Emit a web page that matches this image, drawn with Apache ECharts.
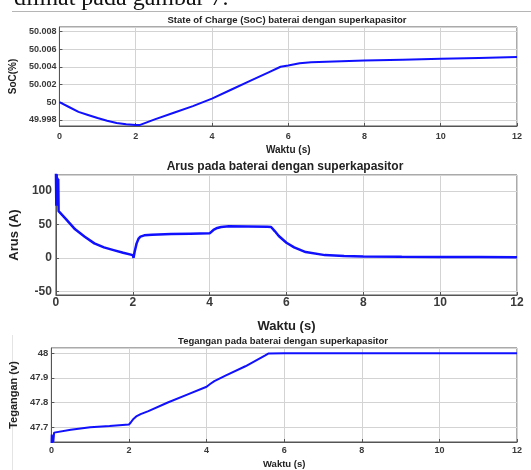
<!DOCTYPE html>
<html>
<head>
<meta charset="utf-8">
<script src="https://cdn.jsdelivr.net/npm/echarts@6/dist/echarts.min.js"></script>
<style>
  html, body { margin: 0; padding: 0; background: #fff; }
  #main { width: 531px; height: 470px; }
</style>
</head>
<body>
<div id="main"></div>
<script>
// data
const socTime = [0, 0.25, 0.5, 0.75, 1, 1.25, 1.5, 1.75, 2, 2.1, 2.5, 3, 3.5, 4, 4.5, 5, 5.5, 5.8, 6, 6.3, 6.6, 7, 8, 9, 10, 11, 12];
const socValue = [50.0000, 49.99945, 49.9989, 49.99855, 49.9982, 49.9979, 49.99765, 49.9975, 49.9974, 49.9974, 49.99805, 49.9988, 49.99955, 50.0004, 50.0014, 50.0024, 50.0034, 50.0040, 50.00415, 50.0044, 50.0045, 50.00458, 50.0047, 50.0048, 50.0049, 50.0050, 50.0051];

const arusTime = [0, 0.01, 0.02, 0.03, 0.04, 0.05, 0.06, 0.07, 0.1, 0.25, 0.5, 0.75, 1, 1.25, 1.5, 1.75, 2, 2.02, 2.05, 2.1, 2.15, 2.2, 2.3, 2.5, 3, 3.5, 4, 4.05, 4.1, 4.2, 4.3, 4.5, 5, 5.5, 5.6, 5.7, 5.8, 6, 6.2, 6.5, 7, 7.5, 8, 9, 10, 11, 12];
const arusValue = [130, 78, 125, 80, 120, 85, 118, 70, 69, 59, 43, 32, 22, 16, 12, 8, 4.5, 0.5, 10, 22, 29, 32, 34, 35, 36, 36.5, 37, 39, 42, 45, 46.5, 47.5, 47.2, 46.8, 46.5, 40, 33, 23, 16, 9, 4.5, 3, 2.5, 2, 1.7, 1.5, 1.3];

const tegTime = [0, 0.01, 0.02, 0.03, 0.05, 0.07, 0.1, 0.5, 1, 1.5, 2, 2.05, 2.1, 2.2, 2.3, 2.5, 3, 3.5, 4, 4.1, 4.2, 4.5, 5, 5.5, 5.6, 6, 8, 10, 12];
const tegValue = [47.62, 47.67, 47.63, 47.66, 47.64, 47.678, 47.68, 47.69, 47.70, 47.705, 47.711, 47.72, 47.731, 47.745, 47.753, 47.765, 47.80, 47.832, 47.864, 47.876, 47.887, 47.91, 47.947, 47.99, 47.999, 48.0, 48.0, 48.0, 48.0];

const titles = [
    "State of Charge (SoC) baterai dengan superkapasitor",
    "Arus pada baterai dengan superkapasitor",
    "Tegangan pada baterai dengan superkapasitor"
];
const yNames = ["SoC(%)", "Arus (A)", "Tegangan (v)"];
const xName = "Waktu (s)";

const FONT = "'Liberation Sans', Arial, sans-serif";
const boxColor = "#555";
const gridColor = "#d3d3d3";
const labelColor = "#3a3a3a";

function pairs(t, v) {
    return t.map((x, i) => [x, v[i]]);
}

function xAxisFor(idx, fs, margin, nameFs, nameGap) {
    return {
        type: "value",
        gridIndex: idx,
        min: 0,
        max: 12,
        interval: 2,
        name: xName,
        nameLocation: "middle",
        nameGap: nameGap,
        nameTextStyle: { fontFamily: FONT, fontWeight: "bold", fontSize: nameFs, color: "#222" },
        axisLine: { show: true, onZero: false, lineStyle: { color: boxColor, width: 1 } },
        axisTick: { show: true, inside: true, length: 3, lineStyle: { color: boxColor } },
        axisLabel: { fontFamily: FONT, fontWeight: "bold", fontSize: fs, color: labelColor, margin: margin },
        splitLine: { show: true, lineStyle: { color: gridColor, width: 1 } },
    };
}

function yAxisFor(idx, min, max, step, digits, fs, margin, name, nameFs, nameGap) {
    return {
        type: "value",
        gridIndex: idx,
        min: min,
        max: max,
        minInterval: step,
        maxInterval: step,
        name: name,
        nameLocation: "middle",
        nameGap: nameGap,
        nameTextStyle: { fontFamily: FONT, fontWeight: "bold", fontSize: nameFs, color: "#222" },
        axisLine: { show: true, onZero: false, lineStyle: { color: boxColor, width: 1 } },
        axisTick: { show: true, inside: true, length: 3, lineStyle: { color: boxColor } },
        axisLabel: {
            fontFamily: FONT, fontWeight: "bold", fontSize: fs, color: labelColor, margin: margin,
            showMinLabel: false, showMaxLabel: false,
            formatter: function (v) { return String(+v.toFixed(digits)); },
        },
        splitLine: { show: true, lineStyle: { color: gridColor, width: 1 } },
    };
}

function titleText(text, x, y, fs) {
    return {
        type: "text",
        x: x,
        y: y,
        style: {
            text: text,
            fontFamily: FONT,
            fontWeight: "bold",
            fontSize: fs,
            fill: "#222",
            align: "center",
            verticalAlign: "middle",
        },
    };
}

const option = {
    animation: false,
    backgroundColor: "#fff",
    grid: [
        { left: 58, right: 14, top: 27, height: 99, show: true, borderColor: boxColor, borderWidth: 1 },
        { left: 54, right: 14, top: 175, height: 120, show: true, borderColor: boxColor, borderWidth: 1 },
        { left: 47, right: 14, top: 348, height: 96, show: true, borderColor: boxColor, borderWidth: 1 },
    ],
    xAxis: [
        xAxisFor(0, 9, 6, 10, 19),
        xAxisFor(1, 12, 2, 13, 25),
        xAxisFor(2, 9, 4, 9.5, 17),
    ],
    yAxis: [
        yAxisFor(0, 49.9973, 50.0085, 0.002, 3, 9, 3, yNames[0], 10, 39),
        yAxisFor(1, -55, 124, 50, 0, 12, 4, yNames[1], 13, 33),
        yAxisFor(2, 47.64, 48.021, 0.1, 1, 9.5, 3, yNames[2], 11, 26),
    ],
    graphic: [
        {
            type: "text",
            x: 14,
            y: -1,
            style: {
                text: "dilihat pada gambar 7.",
                fontFamily: "'Liberation Serif', 'Times New Roman', serif",
                fontSize: 24,
                fill: "#111",
                verticalAlign: "middle",
            },
        },
        { type: "line", shape: { x1: 12, y1: 11.5, x2: 531, y2: 11.5 }, style: { stroke: "#b5b5b5", lineWidth: 1 } },
        { type: "line", shape: { x1: 12.5, y1: 335, x2: 12.5, y2: 470 }, style: { stroke: "#e4e4e4", lineWidth: 1 } },
        titleText(titles[0], 287, 20, 9.5),
        titleText(titles[1], 285, 167, 12),
        titleText(titles[2], 283, 341, 9.5),
    ],
    series: [
        {
            type: "line", xAxisIndex: 0, yAxisIndex: 0, data: pairs(socTime, socValue),
            showSymbol: false, smooth: false, lineStyle: { color: "#1010ff", width: 2 },
        },
        {
            type: "line", xAxisIndex: 1, yAxisIndex: 1, data: pairs(arusTime, arusValue),
            showSymbol: false, smooth: false, lineStyle: { color: "#1010ff", width: 2.5 },
        },
        {
            type: "line", xAxisIndex: 2, yAxisIndex: 2, data: pairs(tegTime, tegValue),
            showSymbol: false, smooth: false, lineStyle: { color: "#1010ff", width: 2 },
        },
    ],
};

const chart = echarts.init(document.getElementById("main"));
chart.setOption(option);
</script>
</body>
</html>
